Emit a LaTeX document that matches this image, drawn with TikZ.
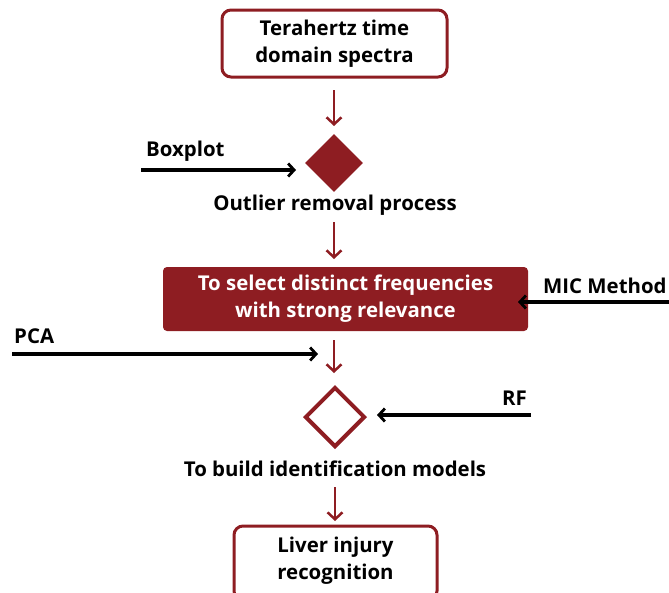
\documentclass[tikz,border=0pt]{standalone}
\usepackage{fontspec}
\setmainfont{Open Sans}
\usetikzlibrary{arrows.meta,shapes.geometric}
\definecolor{dred}{RGB}{142,29,34}
\begin{document}
\begin{tikzpicture}[x=1pt,y=-1pt,
  lbl/.style={font=\bfseries\fontsize{20.4}{27}\selectfont, inner sep=0pt, align=center},
  rbox/.style={draw=dred, line width=3pt, rounded corners=9pt, fill=white},
  redarrow/.style={draw=dred, line width=2.6pt, -{Straight Barb[length=7pt,width=15pt,line width=2.5pt]}},
  blkarrow/.style={draw=black, line width=3.3pt, -{Straight Barb[length=6pt,width=13pt,line width=2.8pt]}}]
\useasboundingbox (0,0) rectangle (669,592);
\clip (0,0) rectangle (669,592);
% top box
\draw[rbox] (222,10) rectangle (447,77);
\node[lbl] (top) at (334.5,44) {Terahertz time\\domain spectra};
\coordinate (topb) at (334,90);
\coordinate (a1e) at (334,126);
\draw[redarrow] (topb) -- (a1e);
% filled diamond
\node[draw=none, fill=dred, diamond, minimum width=58pt, minimum height=58pt, inner sep=0pt] (d1) at (334,163) {};
\node[lbl, anchor=west] (box) at (146,151) {Boxplot};
\coordinate (bxs) at (141,170);
\coordinate (bxe) at (296,170);
\draw[blkarrow] (bxs) -- (bxe);
\node[lbl] (outl) at (335,205) {Outlier removal process};
\coordinate (a2s) at (334,222);
\coordinate (a2e) at (334,259);
\draw[redarrow] (a2s) -- (a2e);
% filled rect
\node[fill=dred, rounded corners=4pt, minimum width=365pt, minimum height=64pt, inner sep=0pt] (sel) at (345.5,299) {};
\node[lbl, text=white] (selt) at (345.5,299) {To select distinct frequencies\\with strong relevance};
\node[lbl, anchor=west] (mic) at (543,286) {MIC Method};
\coordinate (mics) at (672,302);
\coordinate (mice) at (518,302);
\draw[blkarrow] (mics) -- (mice);
\node[lbl, anchor=west] (pca) at (14,336) {PCA};
\coordinate (pcas) at (12,354);
\coordinate (pcae) at (318,354);
\draw[blkarrow] (pcas) -- (pcae);
\coordinate (a3s) at (334,340);
\coordinate (a3e) at (334,373);
\draw[redarrow] (a3s) -- (a3e);
% outline diamond
\node[draw=dred, line width=4pt, fill=white, diamond, minimum width=60pt, minimum height=60pt, inner sep=0pt] (d2) at (335,417) {};
\node[lbl, anchor=east] (rf) at (527,398) {RF};
\coordinate (rfs) at (531,415);
\coordinate (rfe) at (377,415);
\draw[blkarrow] (rfs) -- (rfe);
\node[lbl] (build) at (335,469) {To build identification models};
\coordinate (a4s) at (335,487);
\coordinate (a4e) at (335,521);
\draw[redarrow] (a4s) -- (a4e);
% bottom box
\draw[rbox] (234,526) rectangle (437,600);
\node[lbl] (liver) at (335.5,561) {Liver injury\\recognition};
\end{tikzpicture}
\end{document}
